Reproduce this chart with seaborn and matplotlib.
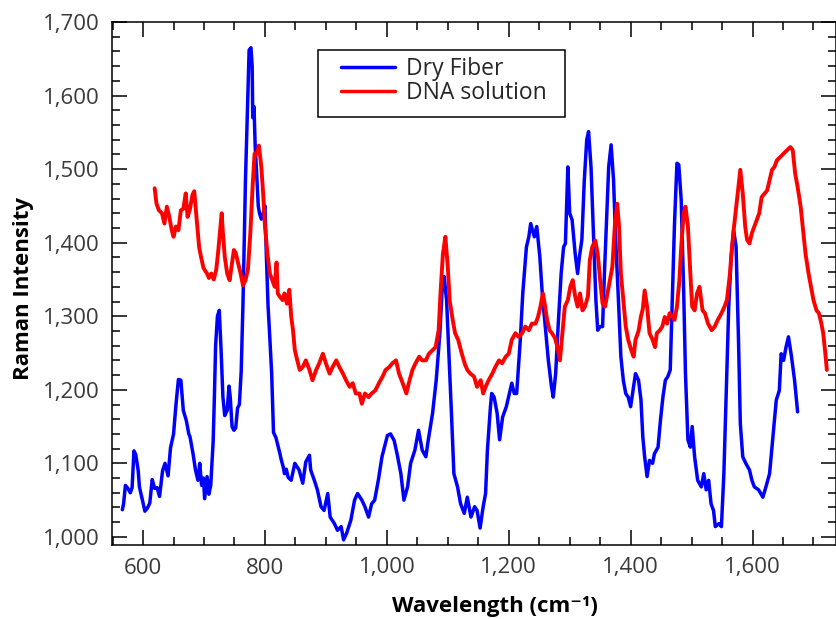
import pandas as pd
import seaborn as sns
import matplotlib.pyplot as plt
from matplotlib.patches import Rectangle
from matplotlib.ticker import MultipleLocator, FuncFormatter

# Raman spectra: wavenumber (cm^-1) and intensity (counts)
dry_x = [566, 568, 571, 575, 579, 582, 585, 588, 592, 594, 599, 603, 607, 611, 615, 619, 623, 627,
         632, 636, 641, 645, 650, 654, 658, 662, 666, 671, 675, 677, 682, 686, 690, 693, 696, 699,
         701, 705, 708, 711, 713, 715, 717, 719, 722, 725, 728, 731, 734, 738, 741, 743, 746, 749,
         752, 755, 758, 761, 764, 766, 768, 772, 774, 777, 779, 780, 782, 784, 786, 789, 791, 794,
         797, 800, 802, 805, 808, 811, 814, 818, 821, 824, 827, 830, 832, 835, 838, 843, 849, 856,
         862, 867, 873, 875, 881, 886, 892, 897, 903, 907, 914, 919, 925, 929, 934, 941, 947, 952,
         959, 964, 970, 975, 980, 986, 992, 1001, 1006, 1012, 1017, 1023, 1028, 1034, 1039, 1046,
         1052, 1058, 1064, 1068, 1075, 1081, 1087, 1091, 1094, 1098, 1102, 1106, 1110, 1116, 1121,
         1127, 1132, 1138, 1144, 1148, 1153, 1158, 1162, 1165, 1170, 1172, 1176, 1181, 1185, 1190,
         1196, 1201, 1205, 1209, 1213, 1219, 1223, 1229, 1233, 1236, 1242, 1246, 1251, 1255, 1260,
         1265, 1270, 1273, 1277, 1281, 1286, 1290, 1293, 1297, 1300, 1304, 1309, 1313, 1316, 1320,
         1324, 1328, 1331, 1335, 1339, 1343, 1346, 1350, 1354, 1357, 1361, 1364, 1368, 1372, 1375,
         1380, 1384, 1388, 1392, 1396, 1400, 1404, 1408, 1413, 1417, 1420, 1423, 1427, 1431, 1436,
         1439, 1445, 1449, 1453, 1457, 1461, 1465, 1468, 1472, 1476, 1479, 1483, 1487, 1490, 1494,
         1498, 1501, 1505, 1510, 1516, 1520, 1524, 1528, 1532, 1536, 1539, 1545, 1549, 1553, 1557,
         1561, 1565, 1569, 1573, 1577, 1580, 1584, 1589, 1595, 1599, 1603, 1610, 1617, 1622, 1628,
         1633, 1639, 1644, 1647, 1651, 1655, 1659, 1664, 1669, 1674]
dry_y = [1037, 1045, 1070, 1066, 1060, 1067, 1117, 1112, 1090, 1068, 1050, 1035, 1039, 1046, 1078,
         1066, 1067, 1055, 1090, 1100, 1083, 1121, 1140, 1180, 1214, 1213, 1172, 1158, 1140, 1136,
         1113, 1091, 1077, 1100, 1070, 1080, 1052, 1082, 1058, 1070, 1100, 1130, 1190, 1260, 1300,
         1308, 1254, 1190, 1165, 1172, 1205, 1190, 1150, 1145, 1148, 1175, 1180, 1225, 1320, 1400,
         1485, 1605, 1662, 1665, 1640, 1570, 1585, 1530, 1500, 1450, 1440, 1432, 1440, 1450, 1390,
         1315, 1270, 1222, 1142, 1135, 1125, 1115, 1104, 1095, 1086, 1092, 1081, 1077, 1100, 1091,
         1073, 1102, 1111, 1091, 1077, 1064, 1041, 1036, 1059, 1027, 1018, 1009, 1014, 996, 1005,
         1023, 1050, 1059, 1050, 1041, 1027, 1045, 1050, 1077, 1109, 1138, 1140, 1131, 1112, 1086,
         1050, 1068, 1100, 1118, 1145, 1118, 1109, 1132, 1168, 1213, 1277, 1340, 1354, 1322, 1245,
         1168, 1086, 1068, 1045, 1032, 1054, 1027, 1041, 1036, 1012, 1041, 1059, 1118, 1177, 1195,
         1190, 1168, 1132, 1163, 1177, 1195, 1209, 1195, 1195, 1268, 1331, 1394, 1408, 1426, 1408,
         1422, 1381, 1331, 1286, 1240, 1205, 1190, 1222, 1286, 1358, 1394, 1399, 1503, 1440, 1431,
         1385, 1358, 1381, 1404, 1485, 1540, 1551, 1503, 1413, 1322, 1281, 1286, 1286, 1358, 1440,
         1503, 1533, 1485, 1413, 1322, 1245, 1213, 1195, 1190, 1177, 1199, 1222, 1213, 1186, 1136,
         1109, 1082, 1104, 1100, 1113, 1122, 1159, 1190, 1213, 1218, 1227, 1313, 1426, 1508, 1506,
         1458, 1336, 1222, 1132, 1122, 1150, 1109, 1077, 1068, 1086, 1064, 1077, 1045, 1036, 1014,
         1018, 1014, 1086, 1199, 1313, 1381, 1417, 1395, 1268, 1154, 1109, 1100, 1091, 1077, 1068,
         1064, 1054, 1068, 1086, 1132, 1186, 1199, 1249, 1240, 1258, 1272, 1245, 1213, 1170]

dna_x = [619, 622, 626, 631, 635, 639, 643, 647, 650, 654, 658, 662, 666, 670, 673, 677, 681, 684,
         688, 692, 695, 699, 701, 705, 708, 712, 716, 720, 723, 726, 729, 731, 734, 738, 742, 745,
         749, 752, 756, 760, 764, 768, 772, 776, 780, 783, 787, 790, 794, 797, 800, 804, 808, 812,
         816, 819, 821, 824, 829, 832, 836, 840, 843, 846, 849, 853, 857, 862, 867, 873, 878, 884,
         889, 895, 900, 906, 911, 917, 922, 928, 933, 939, 944, 949, 955, 959, 964, 970, 975, 981,
         987, 993, 998, 1004, 1009, 1015, 1020, 1026, 1032, 1036, 1042, 1047, 1053, 1058, 1064,
         1069, 1075, 1080, 1085, 1088, 1092, 1096, 1100, 1103, 1108, 1112, 1117, 1123, 1128, 1132,
         1137, 1143, 1148, 1154, 1158, 1162, 1167, 1173, 1178, 1184, 1189, 1195, 1200, 1205, 1211,
         1216, 1222, 1227, 1233, 1238, 1244, 1248, 1252, 1256, 1259, 1263, 1267, 1271, 1276, 1280,
         1284, 1288, 1292, 1297, 1301, 1305, 1309, 1313, 1317, 1321, 1325, 1330, 1333, 1337, 1342,
         1346, 1350, 1354, 1358, 1362, 1366, 1370, 1374, 1378, 1381, 1384, 1388, 1392, 1396, 1401,
         1405, 1408, 1413, 1417, 1420, 1423, 1427, 1431, 1436, 1440, 1443, 1448, 1452, 1456, 1460,
         1464, 1469, 1472, 1476, 1480, 1483, 1487, 1490, 1494, 1498, 1501, 1505, 1509, 1513, 1518,
         1522, 1527, 1533, 1538, 1543, 1549, 1554, 1558, 1563, 1565, 1569, 1575, 1580, 1584, 1588,
         1591, 1595, 1599, 1603, 1607, 1611, 1615, 1620, 1624, 1628, 1632, 1636, 1640, 1646, 1651,
         1657, 1662, 1666, 1670, 1674, 1679, 1683, 1687, 1692, 1696, 1700, 1705, 1709, 1713, 1716,
         1720, 1722]
dna_y = [1474, 1453, 1444, 1440, 1426, 1449, 1435, 1417, 1408, 1422, 1417, 1444, 1446, 1467, 1435,
         1446, 1465, 1470, 1431, 1394, 1381, 1366, 1363, 1358, 1352, 1358, 1350, 1363, 1386, 1413,
         1440, 1413, 1381, 1358, 1349, 1367, 1390, 1386, 1372, 1358, 1342, 1349, 1363, 1413, 1481,
         1521, 1521, 1532, 1503, 1467, 1422, 1386, 1358, 1349, 1340, 1373, 1331, 1327, 1322, 1331,
         1317, 1336, 1300, 1281, 1254, 1240, 1227, 1231, 1240, 1227, 1213, 1227, 1236, 1249, 1236,
         1222, 1231, 1240, 1231, 1222, 1213, 1204, 1209, 1195, 1195, 1181, 1195, 1190, 1195, 1199,
         1209, 1218, 1227, 1231, 1236, 1240, 1222, 1209, 1195, 1209, 1227, 1236, 1245, 1240, 1240,
         1249, 1254, 1258, 1281, 1331, 1385, 1408, 1367, 1322, 1295, 1277, 1268, 1249, 1235, 1227,
         1222, 1218, 1204, 1213, 1195, 1204, 1213, 1222, 1231, 1240, 1236, 1245, 1249, 1268, 1277,
         1272, 1277, 1286, 1281, 1290, 1290, 1299, 1313, 1331, 1317, 1295, 1281, 1277, 1270, 1258,
         1240, 1277, 1313, 1322, 1340, 1349, 1327, 1313, 1331, 1308, 1313, 1327, 1376, 1394, 1403,
         1385, 1349, 1317, 1313, 1331, 1349, 1367, 1422, 1453, 1422, 1358, 1322, 1286, 1268, 1254,
         1245, 1268, 1280, 1300, 1310, 1335, 1313, 1277, 1268, 1258, 1277, 1281, 1286, 1299, 1290,
         1304, 1299, 1295, 1313, 1349, 1394, 1440, 1449, 1422, 1358, 1313, 1308, 1331, 1340, 1308,
         1304, 1290, 1281, 1286, 1295, 1304, 1313, 1322, 1358, 1381, 1417, 1462, 1499, 1467, 1422,
         1404, 1399, 1413, 1422, 1431, 1440, 1462, 1467, 1471, 1485, 1499, 1503, 1512, 1517, 1521,
         1526, 1530, 1526, 1494, 1476, 1449, 1417, 1385, 1358, 1340, 1322, 1308, 1304, 1290, 1277,
         1245, 1227]

series_names = ["Dry Fiber", "DNA solution"]
series_colors = ["#0000ff", "#ff0000"]
y_ticks = [1000, 1100, 1200, 1300, 1400, 1500, 1600, 1700]
x_ticks = [600, 800, 1000, 1200, 1400, 1600]

sns.set_theme(style="ticks")
plt.rcParams["font.family"] = ["Open Sans", "DejaVu Sans"]

spectra = pd.concat([
    pd.DataFrame({"wavenumber": dry_x, "intensity": dry_y, "series": series_names[0]}),
    pd.DataFrame({"wavenumber": dna_x, "intensity": dna_y, "series": series_names[1]}),
], ignore_index=True)

W, H = 837, 619
fig = plt.figure(figsize=(W / 100, H / 100), dpi=100)
left, right, top, bottom = 112, 836, 22, 545
ax = fig.add_axes([left / W, 1 - bottom / H, (right - left) / W, (bottom - top) / H])

sns.lineplot(data=spectra, x="wavenumber", y="intensity", hue="series",
             palette=dict(zip(series_names, series_colors)), sort=False,
             estimator=None, linewidth=2.5, ax=ax)
# the solution spectrum is the noisier trace; draw it a touch heavier
ax.get_lines()[1].set_linewidth(2.8)

ax.set_xlim(549, 1737)
ax.set_ylim(989, 1700)
ax.set_xticks(x_ticks)
ax.set_yticks(y_ticks)
ax.xaxis.set_minor_locator(MultipleLocator(50))
ax.yaxis.set_minor_locator(MultipleLocator(20))
comma = FuncFormatter(lambda v, p: f"{v:,.0f}")
ax.xaxis.set_major_formatter(comma)
ax.yaxis.set_major_formatter(comma)

ax.tick_params(which="both", direction="in", top=True, right=True, width=1.1,
               color="black", labelcolor="#3a3a3a", labelsize=16)
ax.tick_params(axis="x", which="major", length=11, pad=9)
ax.tick_params(axis="y", which="major", length=11, pad=9)
ax.tick_params(which="minor", length=6)
for s in ax.spines.values():
    s.set_visible(True)
    s.set_linewidth(1.1)
    s.set_color("black")

ax.set_xlabel("Wavelength (cm⁻¹)", fontsize=16, fontweight="bold", color="black")
ax.set_ylabel("Raman Intensity", fontsize=16, fontweight="bold", color="black")
ax.xaxis.set_label_coords((495 - left) / (right - left), -(596 - bottom) / (bottom - top))
ax.yaxis.set_label_coords(-(112 - 34) / (right - left), 0.49)

# legend entries without their own frame; a square box is drawn behind them
handles, labels = ax.get_legend_handles_labels()
leg = ax.legend(handles, labels, loc="upper left",
                bbox_to_anchor=(341 / W, 1 - 57 / H), bbox_transform=fig.transFigure,
                frameon=False, fontsize=16.5, handlelength=2.35, handletextpad=0.5,
                labelspacing=0.02, borderpad=0, borderaxespad=0)
for line in leg.get_lines():
    line.set_linewidth(2.5)
ax.add_patch(Rectangle((318 / W, 1 - 117 / H), 247 / W, 67 / H, transform=fig.transFigure,
                       facecolor="white", edgecolor="black", linewidth=1.1,
                       zorder=4, clip_on=False))

fig.savefig("out.png", dpi=100)
